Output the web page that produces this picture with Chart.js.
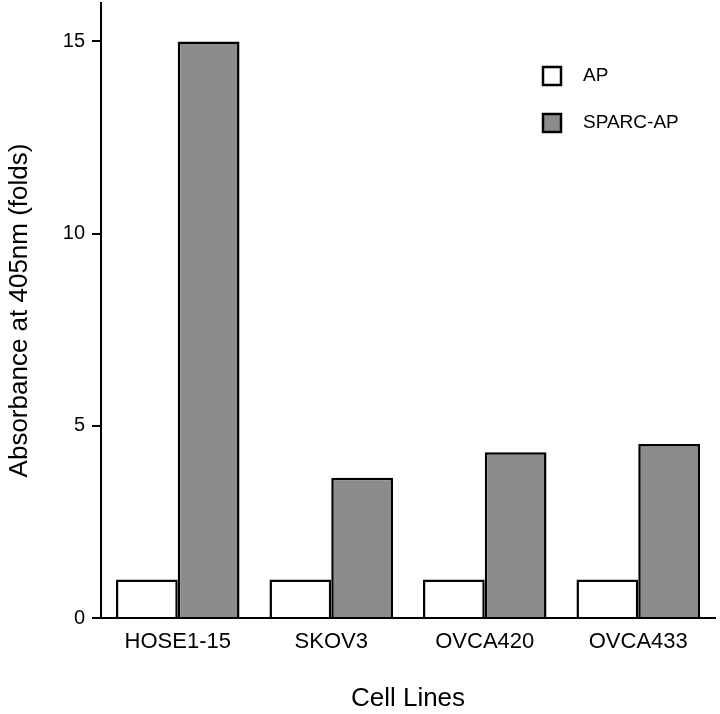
<!DOCTYPE html>
<html>
<head>
<meta charset="utf-8">
<script src="https://cdn.jsdelivr.net/npm/chart.js@4"></script>
<style>
html,body{margin:0;padding:0;background:#fff;}
canvas{display:block;}
</style>
</head>
<body>
<canvas id="c" width="720" height="714"></canvas>
<script>
const categories = ["HOSE1-15", "SKOV3", "OVCA420", "OVCA433"];
const apValues = [1.0, 1.0, 1.0, 1.0];
const sparcValues = [15.0, 3.65, 4.31, 4.53];
const seriesNames = ["AP", "SPARC-AP"];
const yTicks = [0, 5, 10, 15];
const yTitle = "Absorbance at 405nm (folds)";
const xTitle = "Cell Lines";

const FONT = "'Liberation Sans', Arial, Helvetica, sans-serif";
const GRAY = "#8c8c8c";

const legendPlugin = {
  id: "insideLegend",
  afterDraw(chart) {
    const ctx = chart.ctx;
    const area = chart.chartArea;
    const x0 = area.right - 173;
    const y0 = area.top + 63;
    const gap = 47;
    ctx.save();
    ctx.font = "19px " + FONT;
    ctx.textBaseline = "middle";
    ctx.textAlign = "left";
    chart.data.datasets.forEach((ds, i) => {
      const y = y0 + i * gap;
      ctx.fillStyle = ds.backgroundColor;
      ctx.fillRect(x0, y, 20, 20);
      ctx.lineWidth = 2.5;
      ctx.strokeStyle = "#000";
      ctx.strokeRect(x0 + 1, y + 1, 18, 18);
      ctx.fillStyle = "#000";
      ctx.fillText(ds.label, x0 + 41, y + 10);
    });
    ctx.restore();
  }
};

new Chart(document.getElementById("c"), {
  type: "bar",
  data: {
    labels: categories,
    datasets: [
      { label: seriesNames[0], data: apValues, backgroundColor: "#ffffff", borderColor: "#000", borderWidth: 2.5 },
      { label: seriesNames[1], data: sparcValues, backgroundColor: GRAY, borderColor: "#000", borderWidth: 2.5 }
    ]
  },
  options: {
    responsive: false,
    animation: false,
    devicePixelRatio: 1,
    layout: { padding: { top: 3, right: 5, bottom: 0, left: 0 } },
    datasets: { bar: { categoryPercentage: 0.805, barPercentage: 1.0 } },
    plugins: {
      legend: { display: false },
      tooltip: { enabled: false }
    },
    scales: {
      x: {
        grid: { display: true, drawOnChartArea: false, drawTicks: false },
        border: { display: true, color: "#000", width: 2 },
        ticks: { color: "#000", font: { family: FONT, size: 22 }, padding: 11, maxRotation: 0 },
        title: { display: true, text: xTitle, color: "#000", font: { family: FONT, size: 26 }, padding: { top: 0, bottom: 0 } },
        afterFit(scale) { scale.height = 96; scale.paddingLeft = 0; scale.paddingRight = 0; }
      },
      y: {
        min: 0,
        max: 16,
        grid: { display: true, drawOnChartArea: false, drawTicks: true, tickLength: 9, color: "#000", lineWidth: 2 },
        border: { display: true, color: "#000", width: 2 },
        ticks: { color: "#000", font: { family: FONT, size: 20 }, padding: 7, stepSize: 5, includeBounds: false },
        afterBuildTicks(scale) { scale.ticks = yTicks.map(v => ({ value: v })); },
        title: { display: true, text: yTitle, color: "#000", font: { family: FONT, size: 26 }, padding: { top: 4, bottom: 0 } },
        afterFit(scale) { scale.width = 101; scale.paddingTop = 0; scale.paddingBottom = 0; }
      }
    }
  },
  plugins: [legendPlugin]
});
</script>
</body>
</html>
